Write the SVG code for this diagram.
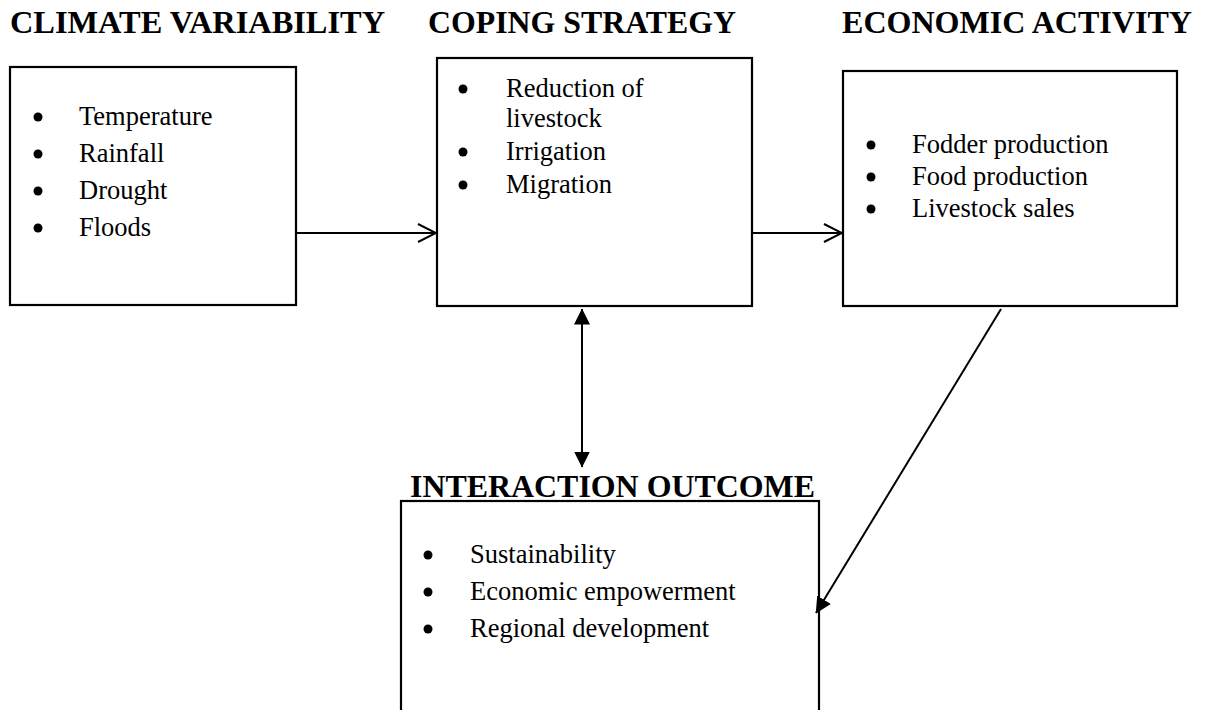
<svg xmlns="http://www.w3.org/2000/svg" width="1206" height="710" viewBox="0 0 1206 710">
  <style>
    .box { fill: #fff; stroke: #000; stroke-width: 2.2; }
    .title { font-family: "Liberation Serif", "Times New Roman", serif; font-weight: bold; font-size: 32px; fill: #000; }
    .item { font-family: "Liberation Serif", "Times New Roman", serif; font-size: 26.5px; fill: #000; }
    .bullet { fill: #000; }
    .edge { stroke: #000; stroke-width: 2; fill: none; }
  </style>
  <defs>
    <marker id="open" viewBox="0 0 20 20" refX="19" refY="10" markerWidth="20" markerHeight="20" markerUnits="userSpaceOnUse" orient="auto">
      <path d="M1,1 L19,10 L1,19" fill="none" stroke="#000" stroke-width="2"/>
    </marker>
    <marker id="solid" viewBox="0 0 16 16" refX="15.5" refY="8" markerWidth="16" markerHeight="16" markerUnits="userSpaceOnUse" orient="auto-start-reverse">
      <path d="M0,0 L16,8 L0,16 Z" fill="#000"/>
    </marker>
  </defs>
  <rect width="1206" height="710" fill="#fff"/>

  <!-- headings -->
  <text class="title" x="10" y="33" textLength="375" lengthAdjust="spacingAndGlyphs">CLIMATE VARIABILITY</text>
  <text class="title" x="428" y="33" textLength="308" lengthAdjust="spacingAndGlyphs">COPING STRATEGY</text>
  <text class="title" x="842" y="33" textLength="350" lengthAdjust="spacingAndGlyphs">ECONOMIC  ACTIVITY</text>

  <g id="climate-variability">
    <rect class="box" x="10" y="67" width="286" height="238"/>
    <circle class="bullet" cx="38" cy="117" r="4.5"/>
    <circle class="bullet" cx="38" cy="154" r="4.5"/>
    <circle class="bullet" cx="38" cy="191" r="4.5"/>
    <circle class="bullet" cx="38" cy="228" r="4.5"/>
    <text class="item" x="79" y="125">Temperature</text>
    <text class="item" x="79" y="162">Rainfall</text>
    <text class="item" x="79" y="199">Drought</text>
    <text class="item" x="79" y="236">Floods</text>
  </g>

  <g id="coping-strategy">
    <rect class="box" x="437" y="58" width="315" height="248"/>
    <circle class="bullet" cx="463" cy="89" r="4.5"/>
    <circle class="bullet" cx="463" cy="152" r="4.5"/>
    <circle class="bullet" cx="463" cy="185" r="4.5"/>
    <text class="item" x="506" y="97">Reduction of</text>
    <text class="item" x="506" y="127">livestock</text>
    <text class="item" x="506" y="160">Irrigation</text>
    <text class="item" x="506" y="193">Migration</text>
  </g>

  <g id="economic-activity">
    <rect class="box" x="843" y="71" width="334" height="235"/>
    <circle class="bullet" cx="871" cy="145" r="4.5"/>
    <circle class="bullet" cx="871" cy="177" r="4.5"/>
    <circle class="bullet" cx="871" cy="209" r="4.5"/>
    <text class="item" x="912" y="153">Fodder production</text>
    <text class="item" x="912" y="185">Food production</text>
    <text class="item" x="912" y="217">Livestock sales</text>
  </g>

  <g id="interaction-outcome">
    <text class="title" x="410" y="497" textLength="405" lengthAdjust="spacingAndGlyphs">INTERACTION OUTCOME</text>
    <rect class="box" x="401" y="501" width="418" height="230"/>
    <circle class="bullet" cx="428" cy="555" r="4.5"/>
    <circle class="bullet" cx="428" cy="592" r="4.5"/>
    <circle class="bullet" cx="428" cy="629" r="4.5"/>
    <text class="item" x="470" y="563">Sustainability</text>
    <text class="item" x="470" y="600">Economic empowerment</text>
    <text class="item" x="470" y="637">Regional development</text>
  </g>

  <g id="connectors">
    <line class="edge" x1="296" y1="233" x2="436" y2="233" marker-end="url(#open)"/>
    <line class="edge" x1="752" y1="233" x2="842" y2="233" marker-end="url(#open)"/>
    <line class="edge" x1="582" y1="309" x2="582" y2="467" marker-start="url(#solid)" marker-end="url(#solid)"/>
    <line class="edge" x1="1001" y1="309" x2="816" y2="613" marker-end="url(#solid)"/>
  </g>
</svg>
